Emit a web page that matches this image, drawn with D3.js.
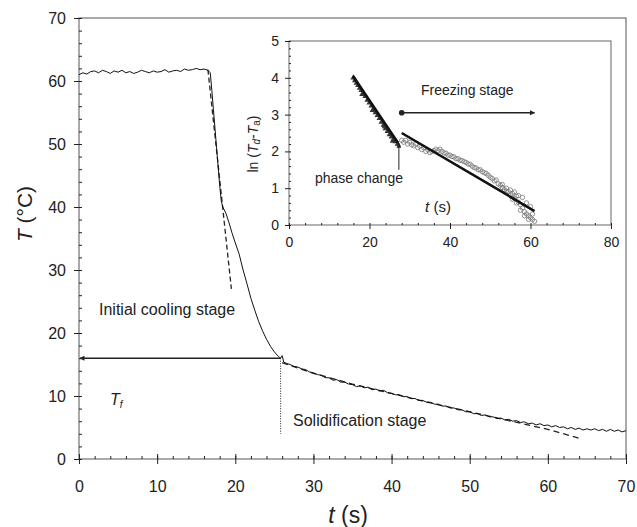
<!DOCTYPE html>
<html>
<head>
<meta charset="utf-8">
<script src="https://cdn.jsdelivr.net/npm/d3@7"></script>
<style>
  body { margin: 0; background: #fff; }
  svg { display: block; font-family: "Liberation Sans", Arial, sans-serif; }
</style>
</head>
<body>
<svg id="chart" width="637" height="527"></svg>
<script>
// measured temperature history, [t (s), T (°C)]
const cooling = [
  [0, 61.0], [0.5, 61.3], [1, 61.1], [1.5, 61.5], [2, 61.6], [2.5, 61.3], [3, 61.7], [3.5, 61.5],
  [4, 61.2], [4.5, 61.6], [5, 61.4], [5.5, 61.7], [6, 61.3], [6.5, 61.5], [7, 61.2], [7.5, 61.4],
  [8, 61.7], [8.5, 61.5], [9, 61.3], [9.5, 61.6], [10, 61.4], [10.5, 61.5], [11, 61.8], [11.5, 61.4],
  [12, 61.6], [12.5, 61.7], [13, 61.5], [13.5, 61.9], [14, 61.7], [14.5, 61.8], [15, 62.0], [15.5, 61.8],
  [16, 61.9], [16.5, 61.7], [16.8, 61.3], [17.0, 58.5], [17.2, 55.5], [17.4, 52.5], [17.6, 49.5],
  [17.8, 46.5], [18.0, 43.5], [18.2, 41.0], [18.4, 40.0], [18.8, 39.0], [19.2, 37.5], [19.6, 35.8],
  [20.0, 34.3], [20.5, 32.5], [21.0, 30.0], [21.5, 27.8], [22.0, 25.5], [22.5, 23.6], [23.0, 21.8],
  [23.5, 20.3], [24.0, 19.0], [24.5, 17.9], [25.0, 17.0], [25.5, 16.3], [25.8, 16.0], [26.0, 16.4],
  [26.2, 15.4], [26.5, 15.2], [27, 15.0], [27.5, 14.7], [28, 14.6], [28.5, 14.3], [29, 14.2], [29.5, 13.8],
  [30, 13.7], [30.5, 13.4], [31, 13.3], [31.5, 12.9], [32, 12.9], [32.5, 12.5], [33, 12.6], [33.5, 12.2],
  [34, 12.2], [34.5, 11.9], [35, 11.8], [35.5, 11.5], [36, 11.6], [36.5, 11.3], [37, 11.4], [37.5, 11.0],
  [38, 11.1], [38.5, 10.8], [39, 10.9], [39.5, 10.5], [40, 10.4], [40.5, 10.2], [41, 10.2], [41.5, 9.9],
  [42, 9.9], [42.5, 9.6], [43, 9.6], [43.5, 9.3], [44, 9.3], [44.5, 9.0], [45, 9.0], [45.5, 8.7],
  [46, 8.7], [46.5, 8.4], [47, 8.4], [47.5, 8.1], [48, 8.1], [48.5, 7.8], [49, 7.8], [49.5, 7.5],
  [50, 7.5], [50.5, 7.2], [51, 7.2], [51.5, 6.9], [52, 7.0], [52.5, 6.7], [53, 6.7], [53.5, 6.4],
  [54, 6.5], [54.5, 6.2], [55, 6.3], [55.5, 6.0], [56, 6.1], [56.5, 5.8], [57, 5.9], [57.5, 5.6],
  [58, 5.7], [58.5, 5.4], [59, 5.6], [59.5, 5.3], [60, 5.4], [60.5, 5.1], [61, 5.3], [61.5, 5.0],
  [62, 5.1], [62.5, 4.8], [63, 5.0], [63.5, 4.7], [64, 4.9], [64.5, 4.6], [65, 4.8], [65.5, 4.6],
  [66, 4.8], [66.5, 4.5], [67, 4.7], [67.5, 4.4], [68, 4.7], [68.5, 4.4], [69, 4.6], [69.5, 4.3], [70, 4.5]
];
// model fits (dashed)
const fitInitial = [[16.5, 61.8], [19.5, 27.0]];
const fitSolid = [[26, 15.3], [30, 13.6], [35, 11.9], [40, 10.4], [45, 8.9], [50, 7.5], [55, 6.1], [60, 4.7], [64, 3.3]];
const freezeT = 16;
const freezeTime = 25.8;

const mainXTicks = [0, 10, 20, 30, 40, 50, 60, 70];
const mainYTicks = [0, 10, 20, 30, 40, 50, 60, 70];

// inset: ln(Td - Ta) vs t
const triangles = [
  [16, 4.0], [16.4, 3.93], [16.8, 3.86], [17.2, 3.8], [17.6, 3.72], [18, 3.66], [18.5, 3.57], [19, 3.5],
  [19.5, 3.4], [20, 3.32], [20.5, 3.24], [21, 3.15], [21.5, 3.06], [22, 2.98], [22.5, 2.9], [23, 2.8],
  [23.5, 2.72], [24, 2.62], [24.5, 2.55], [25, 2.46], [25.5, 2.4], [26, 2.33], [26.5, 2.27], [27, 2.2],
  [18.2, 3.55], [20.8, 3.12], [23.8, 2.68], [25.8, 2.28]
];
const circles = [
  [28, 2.3], [28.5, 2.25], [29, 2.3], [29.5, 2.2], [30, 2.25], [30.5, 2.18], [31, 2.15], [31.5, 2.2],
  [32, 2.1], [32.5, 2.14], [33, 2.05], [33.5, 2.1], [34, 2.0], [34.5, 2.04], [35, 1.97], [35.5, 2.0],
  [36, 2.02], [36.5, 2.06], [37, 2.02], [37.5, 2.06], [38, 2.0], [38.5, 1.96], [39, 1.95], [39.5, 1.9],
  [40, 1.9], [40.5, 1.86], [41, 1.85], [41.5, 1.8], [42, 1.8], [42.5, 1.76], [43, 1.75], [43.5, 1.72],
  [44, 1.7], [44.5, 1.66], [45, 1.65], [45.5, 1.6], [46, 1.56], [46.5, 1.55], [47, 1.5], [47.5, 1.5],
  [48, 1.45], [48.5, 1.42], [49, 1.4], [49.5, 1.35], [50, 1.3], [50.5, 1.26], [51, 1.2], [51.5, 1.22],
  [52, 1.12], [52.5, 1.08], [53, 1.02], [53.5, 0.96], [54, 0.92], [54.5, 0.9], [55, 0.82], [55.5, 0.86],
  [56, 0.72], [56.5, 0.78], [57, 0.62], [57.5, 0.55], [58, 0.46], [58.5, 0.36], [59, 0.3], [59.5, 0.25],
  [60, 0.2], [60.5, 0.15], [61, 0.1],
  [53, 1.1], [54, 1.0], [55, 0.95], [56, 0.9], [57, 0.8], [58, 0.75], [59, 0.6], [60, 0.5],
  [55.5, 0.7], [56.5, 0.6], [57.5, 0.4], [58.5, 0.25], [59.5, 0.15], [60.5, 0.3]
];
const fitLiquid = [[15.9, 4.05], [27.1, 2.23]];
const fitFreeze = [[28, 2.5], [61, 0.38]];
const freezeArrow = [[28, 3.05], [61, 3.05]];
const phaseArrow = [[27.3, 1.5], [27.3, 2.22]];
const insetXTicks = [0, 20, 40, 60, 80];
const insetYTicks = [0, 1, 2, 3, 4, 5];

const ink = '#222';
const svg = d3.select('#chart');

const defs = svg.append('defs');
defs.append('marker')
  .attr('id', 'arrow')
  .attr('viewBox', '0 0 10 10')
  .attr('refX', 9).attr('refY', 5)
  .attr('markerWidth', 7).attr('markerHeight', 5)
  .attr('markerUnits', 'userSpaceOnUse')
  .attr('orient', 'auto')
  .append('path')
  .attr('d', 'M0,0 L10,5 L0,10 Z')
  .attr('fill', ink);

// ---- main plot ----
const x = d3.scaleLinear().domain([0, 70]).range([79, 626]);
const y = d3.scaleLinear().domain([0, 70]).range([459, 18]);

svg.append('rect')
  .attr('x', x(0)).attr('y', y(70))
  .attr('width', x(70) - x(0)).attr('height', y(0) - y(70))
  .attr('fill', 'none').attr('stroke', '#555').attr('stroke-width', 1);

const styleAxis = g => {
  g.select('.domain').remove();
  g.selectAll('line').attr('stroke', ink);
  g.selectAll('text').attr('fill', ink);
};

svg.append('g')
  .attr('transform', `translate(${x(0)},0)`)
  .call(d3.axisLeft(y).tickValues(mainYTicks).tickSize(5).tickPadding(8))
  .call(styleAxis)
  .call(g => g.selectAll('text').attr('font-size', 16).attr('font-family', 'Liberation Sans, Arial'));
svg.append('g')
  .attr('transform', `translate(${x(0)},0)`)
  .call(d3.axisRight(y).tickValues(d3.range(0, 71, 2)).tickSize(3).tickFormat(''))
  .call(styleAxis);

svg.append('g')
  .attr('transform', `translate(0,${y(0)})`)
  .call(d3.axisBottom(x).tickValues(mainXTicks).tickSize(5).tickPadding(17))
  .call(styleAxis)
  .call(g => g.selectAll('text').attr('font-size', 16).attr('font-family', 'Liberation Sans, Arial'));
svg.append('g')
  .attr('transform', `translate(0,${y(0)})`)
  .call(d3.axisTop(x).tickValues(d3.range(0, 71, 2)).tickSize(3).tickFormat(''))
  .call(styleAxis);
svg.append('g')
  .attr('transform', `translate(0,${y(0)})`)
  .call(d3.axisTop(x).tickValues(mainXTicks).tickSize(5).tickFormat(''))
  .call(styleAxis);

const line = d3.line().x(d => x(d[0])).y(d => y(d[1]));

svg.append('path').datum(fitInitial)
  .attr('d', line).attr('fill', 'none')
  .attr('stroke', ink).attr('stroke-width', 1.3).attr('stroke-dasharray', '5,3');
svg.append('path').datum(fitSolid)
  .attr('d', line).attr('fill', 'none')
  .attr('stroke', ink).attr('stroke-width', 1.3).attr('stroke-dasharray', '6,4');

svg.append('path').datum(cooling)
  .attr('d', line).attr('fill', 'none')
  .attr('stroke', '#111').attr('stroke-width', 1);

// freezing temperature arrow and dotted drop line
svg.append('line')
  .attr('x1', x(freezeTime)).attr('y1', y(freezeT))
  .attr('x2', x(0) + 1).attr('y2', y(freezeT))
  .attr('stroke', ink).attr('stroke-width', 1.4)
  .attr('marker-end', 'url(#arrow)');
svg.append('line')
  .attr('x1', x(freezeTime)).attr('y1', y(freezeT))
  .attr('x2', x(freezeTime)).attr('y2', y(4))
  .attr('stroke', ink).attr('stroke-width', 1).attr('stroke-dasharray', '1,1.5');

const label = (px, py, txt, size) => svg.append('text')
  .attr('x', px).attr('y', py)
  .attr('dominant-baseline', 'middle')
  .attr('font-size', size).attr('fill', ink)
  .text(txt);

label(99, 311, 'Initial cooling stage', 16);
label(293, 422, 'Solidification stage', 16);

const tf = svg.append('text')
  .attr('x', 110).attr('y', 401)
  .attr('dominant-baseline', 'middle')
  .attr('font-size', 16).attr('fill', ink).attr('font-style', 'italic');
tf.append('tspan').text('T');
tf.append('tspan').attr('font-size', 10).attr('dy', 4).text('f');

// axis titles
const xt = svg.append('text')
  .attr('x', 348).attr('y', 517)
  .attr('text-anchor', 'middle').attr('dominant-baseline', 'middle')
  .attr('font-size', 23).attr('fill', ink);
xt.append('tspan').attr('font-style', 'italic').text('t');
xt.append('tspan').text(' (s)');

const yt = svg.append('text')
  .attr('transform', 'translate(26,214) rotate(-90)')
  .attr('text-anchor', 'middle').attr('dominant-baseline', 'middle')
  .attr('font-size', 21).attr('fill', ink);
yt.append('tspan').attr('font-style', 'italic').text('T');
yt.append('tspan').text(' (°C)');

// ---- inset ----
const ix = d3.scaleLinear().domain([0, 80]).range([289, 611]);
const iy = d3.scaleLinear().domain([0, 5]).range([225, 41]);

svg.append('rect')
  .attr('x', ix(0)).attr('y', iy(5))
  .attr('width', ix(80) - ix(0)).attr('height', iy(0) - iy(5))
  .attr('fill', '#fff').attr('stroke', '#666').attr('stroke-width', 1);

svg.append('g')
  .attr('transform', `translate(${ix(0)},0)`)
  .call(d3.axisLeft(iy).tickValues(insetYTicks).tickFormat(d3.format('d')).tickSize(4).tickPadding(6))
  .call(styleAxis)
  .call(g => g.selectAll('text').attr('font-size', 14).attr('font-family', 'Liberation Sans, Arial'));
svg.append('g')
  .attr('transform', `translate(${ix(0)},0)`)
  .call(d3.axisRight(iy).tickValues(d3.range(0, 5.01, 0.2)).tickSize(2).tickFormat(''))
  .call(styleAxis);
svg.append('g')
  .attr('transform', `translate(0,${iy(0)})`)
  .call(d3.axisBottom(ix).tickValues(insetXTicks).tickSize(4).tickPadding(8))
  .call(styleAxis)
  .call(g => g.selectAll('text').attr('font-size', 14).attr('font-family', 'Liberation Sans, Arial'));
svg.append('g')
  .attr('transform', `translate(0,${iy(0)})`)
  .call(d3.axisTop(ix).tickValues(d3.range(0, 81, 4)).tickSize(2).tickFormat(''))
  .call(styleAxis);

const iline = d3.line().x(d => ix(d[0])).y(d => iy(d[1]));

svg.append('g').selectAll('circle')
  .data(circles)
  .join('circle')
  .attr('cx', d => ix(d[0])).attr('cy', d => iy(d[1]))
  .attr('r', 2.2)
  .attr('fill', 'none').attr('stroke', '#777').attr('stroke-width', 0.8);

const tri = d3.symbol().type(d3.symbolTriangle).size(16);
svg.append('g').selectAll('path')
  .data(triangles)
  .join('path')
  .attr('transform', d => `translate(${ix(d[0])},${iy(d[1])})`)
  .attr('d', tri)
  .attr('fill', '#333');

svg.append('path').datum(fitLiquid)
  .attr('d', iline).attr('fill', 'none')
  .attr('stroke', '#111').attr('stroke-width', 2.6);
svg.append('path').datum(fitFreeze)
  .attr('d', iline).attr('fill', 'none')
  .attr('stroke', '#111').attr('stroke-width', 2.6);

svg.append('path').datum(freezeArrow)
  .attr('d', iline).attr('fill', 'none')
  .attr('stroke', ink).attr('stroke-width', 1.5)
  .attr('marker-end', 'url(#arrow)');
svg.append('circle')
  .attr('cx', ix(freezeArrow[0][0])).attr('cy', iy(freezeArrow[0][1]))
  .attr('r', 2.8).attr('fill', ink);

svg.append('path').datum(phaseArrow)
  .attr('d', iline).attr('fill', 'none')
  .attr('stroke', ink).attr('stroke-width', 1)
  .attr('marker-end', 'url(#arrow)');

label(421, 91, 'Freezing stage', 14);
label(315, 179, 'phase change', 14);

const ixt = svg.append('text')
  .attr('x', 438).attr('y', 208)
  .attr('text-anchor', 'middle').attr('dominant-baseline', 'middle')
  .attr('font-size', 15).attr('fill', ink);
ixt.append('tspan').attr('font-style', 'italic').text('t');
ixt.append('tspan').text(' (s)');

const iyt = svg.append('text')
  .attr('transform', 'translate(254,144) rotate(-90)')
  .attr('text-anchor', 'middle').attr('dominant-baseline', 'middle')
  .attr('font-size', 14).attr('fill', ink);
iyt.append('tspan').text('ln (');
iyt.append('tspan').attr('font-style', 'italic').text('T');
iyt.append('tspan').attr('font-size', 10).attr('font-style', 'italic').attr('dy', 3).text('d');
iyt.append('tspan').attr('dy', -3).text('-');
iyt.append('tspan').attr('font-style', 'italic').text('T');
iyt.append('tspan').attr('font-size', 10).attr('dy', 3).text('a');
iyt.append('tspan').attr('dy', -3).text(')');
</script>
</body>
</html>
